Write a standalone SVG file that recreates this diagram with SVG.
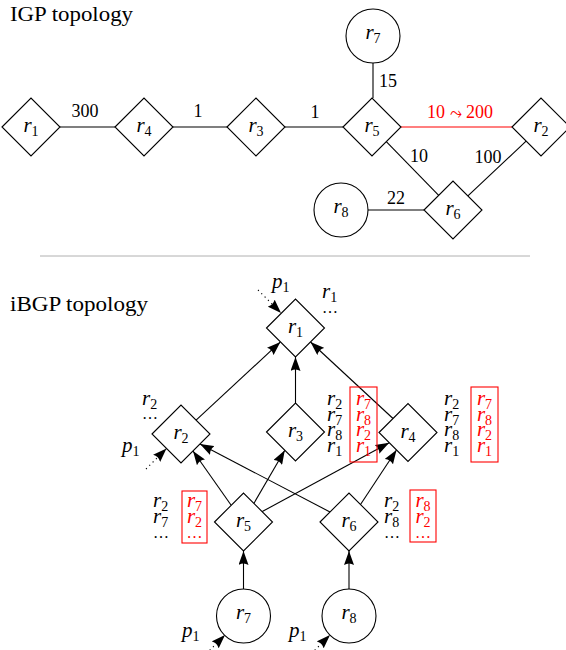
<svg xmlns="http://www.w3.org/2000/svg" width="566" height="650" viewBox="0 0 566 650">
<defs>
<marker id="ah" markerWidth="14" markerHeight="10" refX="14" refY="5" orient="auto" markerUnits="userSpaceOnUse"><path d="M0,0 L14,5 L0,10 Q3,5 0,0 z" fill="#000"/></marker>
</defs>
<style>
text{font-family:"Liberation Serif","Times New Roman",serif;fill:#000}
.nl{font-size:21px;text-anchor:middle}
.i{font-style:italic}
.s{font-size:14px}
.el{font-size:18px;text-anchor:middle}
.t{font-size:20px}
.nd{fill:#fff;stroke:#000;stroke-width:1.1}
.e{stroke:#000;stroke-width:1.1;fill:none}
.a{marker-end:url(#ah)}
.d{stroke-dasharray:1.2 3.5}
.red{fill:#f00}
.box{fill:none;stroke:#f00;stroke-width:1.1}
.tb{font-size:21px}
.tc{font-size:21px;text-anchor:middle}
.dots{font-size:16px}
</style>
<rect width="566" height="650" fill="#fff"/>

<text class="t" x="10" y="21" textLength="123" lengthAdjust="spacingAndGlyphs">IGP topology</text>
<line x1="40" y1="256" x2="530" y2="256" stroke="#b0b0b0" stroke-width="1"/>
<text class="t" x="10" y="311" textLength="138" lengthAdjust="spacingAndGlyphs">iBGP topology</text>

<g id="igp-edges">
<line class="e" x1="60" y1="127" x2="115" y2="127"/>
<line class="e" x1="173" y1="127" x2="227" y2="127"/>
<line class="e" x1="285" y1="127" x2="343" y2="127"/>
<line x1="401" y1="127" x2="512" y2="127" stroke="#f00" stroke-width="1.1"/>
<line class="e" x1="373" y1="63" x2="373" y2="98"/>
<line class="e" x1="386.3" y1="141.7" x2="438.7" y2="195.3"/>
<line class="e" x1="526.1" y1="141.1" x2="467.9" y2="195.9"/>
<line class="e" x1="368" y1="210" x2="424" y2="210"/>
<text class="el" x="85" y="117">300</text>
<text class="el" x="198" y="117">1</text>
<text class="el" x="315" y="118">1</text>
<text class="el" x="388" y="87">15</text>
<text class="el red" x="460" y="118">10 <tspan font-family="DejaVu Sans" font-size="15">⤳</tspan> 200</text>
<text class="el" x="419" y="162">10</text>
<text class="el" x="488" y="163">100</text>
<text class="el" x="396" y="204">22</text>
</g>

<g id="igp-r1"><path class="nd" d="M2,127 L31,98 L60,127 L31,156 Z"/><text class="nl" x="31" y="132"><tspan class="i">r</tspan><tspan class="s" dy="4">1</tspan></text></g>
<g id="igp-r4"><path class="nd" d="M115,127 L144,98 L173,127 L144,156 Z"/><text class="nl" x="144" y="132"><tspan class="i">r</tspan><tspan class="s" dy="4">4</tspan></text></g>
<g id="igp-r3"><path class="nd" d="M227,127 L256,98 L285,127 L256,156 Z"/><text class="nl" x="256" y="132"><tspan class="i">r</tspan><tspan class="s" dy="4">3</tspan></text></g>
<g id="igp-r5"><path class="nd" d="M343,127 L372,98 L401,127 L372,156 Z"/><text class="nl" x="372" y="132"><tspan class="i">r</tspan><tspan class="s" dy="4">5</tspan></text></g>
<g id="igp-r2"><path class="nd" d="M512,127 L541,98 L570,127 L541,156 Z"/><text class="nl" x="541" y="132"><tspan class="i">r</tspan><tspan class="s" dy="4">2</tspan></text></g>
<g id="igp-r6"><path class="nd" d="M424,210 L453,181 L482,210 L453,239 Z"/><text class="nl" x="453" y="215"><tspan class="i">r</tspan><tspan class="s" dy="4">6</tspan></text></g>
<g id="igp-r7"><circle class="nd" cx="373" cy="36" r="27"/><text class="nl" x="373" y="39"><tspan class="i">r</tspan><tspan class="s" dy="4">7</tspan></text></g>
<g id="igp-r8"><circle class="nd" cx="341" cy="210" r="27"/><text class="nl" x="341" y="213"><tspan class="i">r</tspan><tspan class="s" dy="4">8</tspan></text></g>

<g id="ibgp-edges">
<line class="e a" x1="295.5" y1="403" x2="295.5" y2="357"/>
<line class="e a" x1="196.1" y1="420.1" x2="280.4" y2="341.9"/>
<line class="e a" x1="393" y1="418.5" x2="310.5" y2="342"/>
<line class="e a" x1="231" y1="505" x2="193" y2="451"/>
<line class="e a" x1="253.7" y1="503.7" x2="284.8" y2="450.3"/>
<line class="e a" x1="261.8" y1="511.8" x2="389.2" y2="442.7"/>
<line class="e a" x1="330" y1="512" x2="200" y2="444"/>
<line class="e a" x1="360.5" y1="504.5" x2="396.5" y2="450"/>
<line class="e a" x1="243.5" y1="589" x2="243.5" y2="551"/>
<line class="e a" x1="349" y1="589" x2="349" y2="551"/>
<line class="e a d" x1="258" y1="290" x2="281" y2="313"/>
<line class="e a d" x1="146" y1="469" x2="166.5" y2="448.5"/>
<line class="e a d" x1="203" y1="657" x2="225" y2="635"/>
<line class="e a d" x1="308" y1="657" x2="330" y2="635"/>
</g>

<g id="r1"><path class="nd" d="M266.5,328 L295.5,299 L324.5,328 L295.5,357 Z"/><text class="nl" x="295.5" y="333"><tspan class="i">r</tspan><tspan class="s" dy="4">1</tspan></text></g>
<g id="r2"><path class="nd" d="M152,434 L181,405 L210,434 L181,463 Z"/><text class="nl" x="181" y="439"><tspan class="i">r</tspan><tspan class="s" dy="4">2</tspan></text></g>
<g id="r3"><path class="nd" d="M266.5,432 L295.5,403 L324.5,432 L295.5,461 Z"/><text class="nl" x="295.5" y="437"><tspan class="i">r</tspan><tspan class="s" dy="4">3</tspan></text></g>
<g id="r4"><path class="nd" d="M379,432.5 L408,403.5 L437,432.5 L408,461.5 Z"/><text class="nl" x="408" y="437.5"><tspan class="i">r</tspan><tspan class="s" dy="4">4</tspan></text></g>
<g id="r5"><path class="nd" d="M214.5,522 L243.5,493 L272.5,522 L243.5,551 Z"/><text class="nl" x="243.5" y="527"><tspan class="i">r</tspan><tspan class="s" dy="4">5</tspan></text></g>
<g id="r6"><path class="nd" d="M320,522 L349,493 L378,522 L349,551 Z"/><text class="nl" x="349" y="527"><tspan class="i">r</tspan><tspan class="s" dy="4">6</tspan></text></g>
<g id="r7"><circle class="nd" cx="243.5" cy="616" r="27"/><text class="nl" x="243.5" y="619"><tspan class="i">r</tspan><tspan class="s" dy="4">7</tspan></text></g>
<g id="r8"><circle class="nd" cx="349" cy="616" r="27"/><text class="nl" x="349" y="619"><tspan class="i">r</tspan><tspan class="s" dy="4">8</tspan></text></g>

<g id="p1-labels">
<text class="tb" x="272" y="288"><tspan class="i">p</tspan><tspan class="s" dy="4">1</tspan></text>
<text class="tb" x="122" y="452"><tspan class="i">p</tspan><tspan class="s" dy="4">1</tspan></text>
<text class="tb" x="182" y="637"><tspan class="i">p</tspan><tspan class="s" dy="4">1</tspan></text>
<text class="tb" x="289" y="637"><tspan class="i">p</tspan><tspan class="s" dy="4">1</tspan></text>
</g>

<g id="rib-r1">
<text class="tb" x="322" y="298"><tspan class="i">r</tspan><tspan class="s" dy="4">1</tspan></text>
<text class="dots" x="322" y="313">…</text>
</g>
<g id="rib-r2">
<text class="tb" x="142" y="405"><tspan class="i">r</tspan><tspan class="s" dy="4">2</tspan></text>
<text class="dots" x="142" y="419">…</text>
</g>
<g id="rib-r3">
<text class="tb" x="327" y="405"><tspan class="i">r</tspan><tspan class="s" dy="4">2</tspan></text>
<text class="tb" x="327" y="420.5"><tspan class="i">r</tspan><tspan class="s" dy="4">7</tspan></text>
<text class="tb" x="327" y="436"><tspan class="i">r</tspan><tspan class="s" dy="4">8</tspan></text>
<text class="tb" x="327" y="451.5"><tspan class="i">r</tspan><tspan class="s" dy="4">1</tspan></text>
<rect class="box" x="350" y="387" width="27" height="75"/>
<text class="tc red" x="363.5" y="405"><tspan class="i">r</tspan><tspan class="s" dy="4">7</tspan></text>
<text class="tc red" x="363.5" y="420.5"><tspan class="i">r</tspan><tspan class="s" dy="4">8</tspan></text>
<text class="tc red" x="363.5" y="436"><tspan class="i">r</tspan><tspan class="s" dy="4">2</tspan></text>
<text class="tc red" x="363.5" y="451.5"><tspan class="i">r</tspan><tspan class="s" dy="4">1</tspan></text>
</g>
<g id="rib-r4">
<text class="tb" x="444" y="405"><tspan class="i">r</tspan><tspan class="s" dy="4">2</tspan></text>
<text class="tb" x="444" y="420.5"><tspan class="i">r</tspan><tspan class="s" dy="4">7</tspan></text>
<text class="tb" x="444" y="436"><tspan class="i">r</tspan><tspan class="s" dy="4">8</tspan></text>
<text class="tb" x="444" y="451.5"><tspan class="i">r</tspan><tspan class="s" dy="4">1</tspan></text>
<rect class="box" x="471" y="387" width="27" height="75"/>
<text class="tc red" x="484.5" y="405"><tspan class="i">r</tspan><tspan class="s" dy="4">7</tspan></text>
<text class="tc red" x="484.5" y="420.5"><tspan class="i">r</tspan><tspan class="s" dy="4">8</tspan></text>
<text class="tc red" x="484.5" y="436"><tspan class="i">r</tspan><tspan class="s" dy="4">2</tspan></text>
<text class="tc red" x="484.5" y="451.5"><tspan class="i">r</tspan><tspan class="s" dy="4">1</tspan></text>
</g>
<g id="rib-r5">
<text class="tb" x="153" y="507"><tspan class="i">r</tspan><tspan class="s" dy="4">2</tspan></text>
<text class="tb" x="153" y="523"><tspan class="i">r</tspan><tspan class="s" dy="4">7</tspan></text>
<text class="dots" x="153" y="538">…</text>
<rect class="box" x="182" y="491" width="25" height="52"/>
<text class="tc red" x="194.5" y="507"><tspan class="i">r</tspan><tspan class="s" dy="4">7</tspan></text>
<text class="tc red" x="194.5" y="523"><tspan class="i">r</tspan><tspan class="s" dy="4">2</tspan></text>
<text class="dots red" x="194.5" y="538" text-anchor="middle">…</text>
</g>
<g id="rib-r6">
<text class="tb" x="384" y="507"><tspan class="i">r</tspan><tspan class="s" dy="4">2</tspan></text>
<text class="tb" x="384" y="523"><tspan class="i">r</tspan><tspan class="s" dy="4">8</tspan></text>
<text class="dots" x="384" y="538">…</text>
<rect class="box" x="410" y="490" width="26" height="52"/>
<text class="tc red" x="423" y="507"><tspan class="i">r</tspan><tspan class="s" dy="4">8</tspan></text>
<text class="tc red" x="423" y="523"><tspan class="i">r</tspan><tspan class="s" dy="4">2</tspan></text>
<text class="dots red" x="423" y="538" text-anchor="middle">…</text>
</g>
</svg>
